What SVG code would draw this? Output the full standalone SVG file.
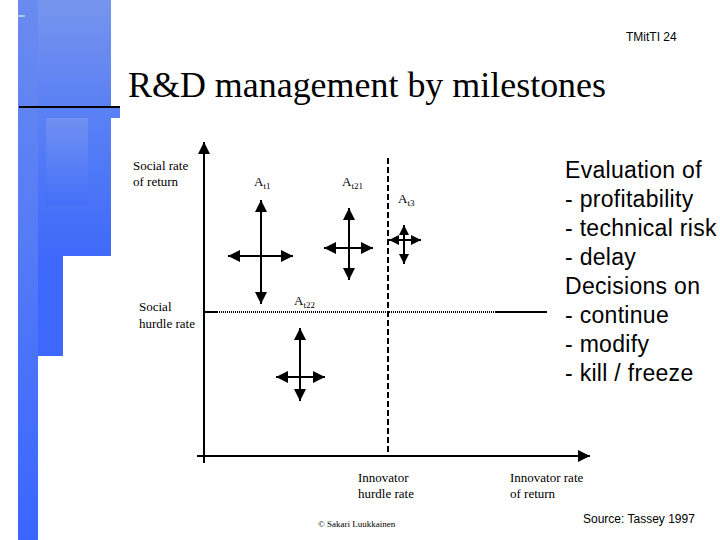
<svg xmlns="http://www.w3.org/2000/svg" width="720" height="540" viewBox="0 0 720 540">
<defs>
<linearGradient id="gTop" x1="0" y1="0" x2="0" y2="1"><stop offset="0" stop-color="#7796ee"/><stop offset="1" stop-color="#5a7ff3"/></linearGradient>
<linearGradient id="gMid" x1="0" y1="0" x2="0" y2="1"><stop offset="0" stop-color="#5b82f5"/><stop offset="1" stop-color="#3f6afa"/></linearGradient>
<linearGradient id="gIn" x1="0" y1="0" x2="0" y2="1"><stop offset="0" stop-color="#7090f1"/><stop offset="1" stop-color="#4470f9"/></linearGradient>
<linearGradient id="gStrip" x1="0" y1="0" x2="0" y2="1"><stop offset="0" stop-color="#6a8bef"/><stop offset="1" stop-color="#3a66ff"/></linearGradient>
<marker id="ah" viewBox="0 0 12 12" refX="12" refY="6" markerWidth="12" markerHeight="12" markerUnits="userSpaceOnUse" orient="auto-start-reverse"><path d="M0,0 L12,6 L0,12 Z" fill="#000"/></marker>
<marker id="ahs" viewBox="0 0 10 10" refX="10" refY="5" markerWidth="10" markerHeight="10" markerUnits="userSpaceOnUse" orient="auto-start-reverse"><path d="M0,0 L10,5 L0,10 Z" fill="#000"/></marker>
</defs>
<style>
.serif{font-family:"Liberation Serif","Times New Roman",serif;fill:#000}
.sans{font-family:"Liberation Sans",Arial,sans-serif;fill:#000}
.lbl{font-size:13px}
.ax{stroke:#000;stroke-width:2;fill:none}
.cr{stroke:#000;stroke-width:2;fill:none;marker-start:url(#ah);marker-end:url(#ah)}
.crs{stroke:#000;stroke-width:2;fill:none;marker-start:url(#ahs);marker-end:url(#ahs)}
.big{font-size:23px;letter-spacing:0.3px}
</style>
<rect width="720" height="540" fill="#fff"/>
<g id="decor">
<rect x="18" y="0" width="93" height="107" fill="url(#gTop)"/>
<rect x="25" y="107" width="86" height="149" fill="url(#gMid)"/>
<rect x="40" y="108" width="80" height="10" fill="#5a80f5"/>
<rect x="46" y="118" width="42" height="87" fill="url(#gIn)"/>
<rect x="32" y="256" width="31" height="100" fill="#3d68fb"/>
<rect x="18" y="0" width="20" height="540" fill="url(#gStrip)"/>
<line x1="18" y1="16" x2="25" y2="16" stroke="#fff" stroke-width="1"/>
<line x1="19" y1="107" x2="120" y2="107" stroke="#000" stroke-width="2"/>
</g>
<text class="sans" x="626" y="41" font-size="12">TMitTI 24</text>
<text class="serif" x="128" y="97" font-size="35" textLength="478" lengthAdjust="spacingAndGlyphs">R&amp;D management by milestones</text>
<g id="connectors">
<line class="ax" x1="204" y1="463" x2="204" y2="142" marker-end="url(#ah)"/>
<line class="ax" x1="197" y1="456" x2="590" y2="456" marker-end="url(#ah)"/>
<line x1="388" y1="158" x2="388" y2="456" stroke="#000" stroke-width="2" stroke-dasharray="6,3"/>
<line x1="204" y1="312" x2="217" y2="312" stroke="#000" stroke-width="2"/>
<line x1="217" y1="312" x2="495" y2="312" stroke="#000" stroke-width="2" stroke-dasharray="1,1"/>
<line x1="495" y1="312" x2="547" y2="312" stroke="#000" stroke-width="2"/>
</g>
<g id="At1">
<line class="cr" x1="261" y1="200" x2="261" y2="304"/>
<line class="cr" x1="228" y1="256" x2="293" y2="256"/>
<text class="serif lbl" x="254" y="186">A<tspan font-size="9" dy="3">t1</tspan></text>
</g>
<g id="At21">
<line class="cr" x1="349" y1="208" x2="349" y2="280"/>
<line class="cr" x1="324" y1="248" x2="373" y2="248"/>
<text class="serif lbl" x="342" y="186">A<tspan font-size="9" dy="3">t21</tspan></text>
</g>
<g id="At3">
<line class="crs" x1="404" y1="225" x2="404" y2="264"/>
<line class="crs" x1="389" y1="240" x2="421" y2="240"/>
<text class="serif lbl" x="398" y="203">A<tspan font-size="9" dy="3">t3</tspan></text>
</g>
<g id="At22">
<line class="cr" x1="300" y1="328" x2="300" y2="401"/>
<line class="cr" x1="276" y1="377" x2="325" y2="377"/>
<text class="serif lbl" x="294" y="305">A<tspan font-size="9" dy="3">t22</tspan></text>
</g>
<g id="labels">
<text class="serif lbl" x="133" y="170">Social rate</text>
<text class="serif lbl" x="133" y="186">of return</text>
<text class="serif lbl" x="139" y="311">Social</text>
<text class="serif lbl" x="139" y="328">hurdle rate</text>
<text class="serif lbl" x="358" y="482">Innovator</text>
<text class="serif lbl" x="358" y="498">hurdle rate</text>
<text class="serif lbl" x="510" y="482">Innovator rate</text>
<text class="serif lbl" x="510" y="498">of return</text>
<text class="serif" x="318" y="527" font-size="9">© Sakari Luukkainen</text>
<text class="sans" x="583" y="523" font-size="12">Source: Tassey 1997</text>
</g>
<g id="evaluation" class="sans big">
<text x="565" y="178">Evaluation of</text>
<text x="565" y="207">- profitability</text>
<text x="565" y="236">- technical risk</text>
<text x="565" y="265">- delay</text>
<text x="565" y="294">Decisions on</text>
<text x="565" y="323">- continue</text>
<text x="565" y="352">- modify</text>
<text x="565" y="381">- kill / freeze</text>
</g>
</svg>
